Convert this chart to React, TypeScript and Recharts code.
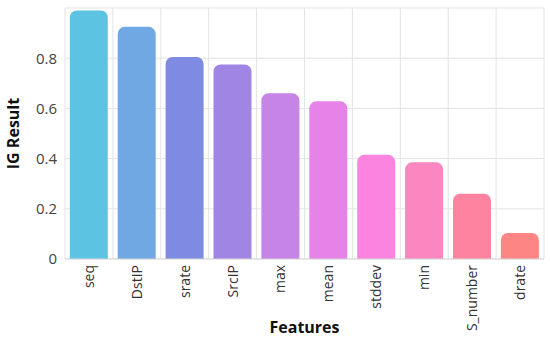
// IG result per feature, bar chart
import { BarChart, Bar, XAxis, YAxis, CartesianGrid, Cell } from "recharts";

const features = ["seq", "DstIP", "srate", "SrcIP", "max", "mean", "stddev", "min", "S_number", "drate"];
const igValues = [0.99, 0.925, 0.805, 0.775, 0.66, 0.628, 0.415, 0.385, 0.26, 0.104];
const yTicks = [0, 0.2, 0.4, 0.6, 0.8];

const COLORS = [
  "#5cc4e2",
  "#6fa8e2",
  "#7f8be2",
  "#a085e5",
  "#c684e6",
  "#e682e8",
  "#fb84e0",
  "#fc86bf",
  "#fd84a0",
  "#fd8685",
];

const data = features.map((feature, i) => ({ feature, value: igValues[i] }));

const FONT = "'Open Sans', 'Noto Sans', sans-serif";

const App = () => {
  return (
    <div style={{ position: "absolute", left: 0, top: 0, fontFamily: FONT }}>
      <BarChart
        width={550}
        height={344}
        data={data}
        margin={{ top: 8, right: 6, bottom: 0, left: 0 }}
        barCategoryGap="10%"
      >
        <CartesianGrid
          stroke="#e3e3e3"
          strokeWidth={1}
          horizontalCoordinatesGenerator={({ offset }: any) =>
            [0, 0.2, 0.4, 0.6, 0.8, 1].map((v) => offset.top + offset.height * (1 - v))
          }
          verticalCoordinatesGenerator={({ offset }: any) =>
            features.map((_, i) => offset.left + (offset.width * i) / features.length).concat(offset.left + offset.width)
          }
        />
        <XAxis
          dataKey="feature"
          interval={0}
          height={85}
          axisLine={{ stroke: "#d9d9d9" }}
          tickLine={false}
          angle={-90}
          textAnchor="end"
          dy={-2}
          dx={-5}
          tick={{ fill: "#333", fontSize: 14, fontFamily: FONT }}
          label={{
            value: "Features",
            position: "insideBottom",
            offset: 11,
            style: { fontWeight: 700, fontSize: 16, fill: "#111", fontFamily: FONT },
          }}
        />
        <YAxis
          width={65}
          domain={[0, 1]}
          ticks={yTicks}
          axisLine={false}
          tickLine={false}
          tick={{ fill: "#444", fontSize: 15, fontFamily: FONT }}
          label={{
            value: "IG Result",
            angle: -90,
            position: "insideLeft",
            offset: 13,
            style: { textAnchor: "middle", fontWeight: 700, fontSize: 16, fill: "#111", fontFamily: FONT },
          }}
        />
        <Bar dataKey="value" radius={[7, 7, 0, 0]} isAnimationActive={false}>
          {data.map((entry, index) => (
            <Cell key={`cell-${index}`} fill={COLORS[index % COLORS.length]} />
          ))}
        </Bar>
      </BarChart>
    </div>
  );
};

export default App;
